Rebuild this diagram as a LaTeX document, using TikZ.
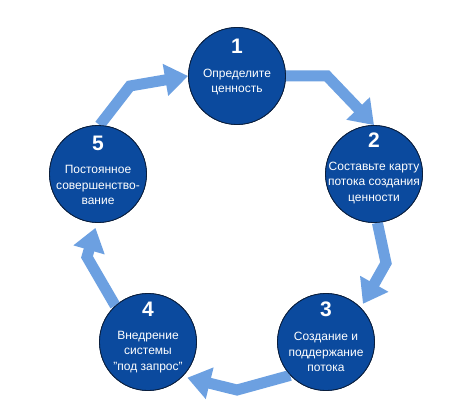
\documentclass[tikz,border=0pt]{standalone}
\usepackage{fontspec}
\setmainfont{Liberation Sans}
\usetikzlibrary{arrows.meta,calc}
\definecolor{circblue}{RGB}{11,74,158}
\definecolor{arrblue}{RGB}{108,160,225}
\definecolor{circline}{RGB}{10,30,60}
\tikzset{
  stage/.style={circle, fill=circblue, draw=circline, line width=0.8pt, minimum size=97pt, inner sep=0pt},
  num/.style={text=white, font=\fontsize{21}{24}\selectfont\bfseries, inner sep=0pt},
  txt/.style={text=white, font=\fontsize{12}{15.5}\selectfont, align=center, inner sep=0pt},
  flow/.style={draw=arrblue, line width=11pt, line join=miter, miter limit=10,
    -{Triangle[width=31pt,length=23pt]}}
}
\begin{document}
\begin{tikzpicture}[x=1pt,y=-1pt]
\useasboundingbox (0,0) rectangle (474,409);
\fill[white] (0,0) rectangle (474,409);
% circles
\node[stage] (c1) at (237,76) {};
\node[stage] (c2) at (374,174) {};
\node[stage] (c3) at (326,342) {};
\node[stage] (c4) at (148,342) {};
\node[stage] (c5) at (98,174) {};
% bends
\coordinate (b12) at (327,76);
\coordinate (b23) at (386,263);
\coordinate (b34) at (237,390);
\coordinate (b45) at (87,257);
\coordinate (b51) at (130,86);
% arrows
\draw[flow] (c1.east) -- (b12) -- (c2.north);
\draw[flow] (c2.-86) -- (b23) -- ($(c3.46)+(3,-3)$);
\draw[flow] (c3.223) -- (b34) -- ($(c4.-42)+(3,3)$);
\draw[flow] (c4.132) -- (b45) -- ($(c5.-93)+(0,5)$);
\draw[flow] (c5.88) -- (b51) -- (c1.west);
% redraw circles on top
\node[stage] at (c1) {};
\node[stage] at (c2) {};
\node[stage] at (c3) {};
\node[stage] at (c4) {};
\node[stage] at (c5) {};
% labels
\node[num] (n1) at ($(c1)+(0,-30)$) {1};
\node[txt] (t1) at ($(c1)+(0,6)$) {Определите\\ценность};
\node[num] (n2) at ($(c2)+(0,-34)$) {2};
\node[txt] (t2) at ($(c2)+(0,9)$) {Составьте карту\\потока создания\\ценности};
\node[num] (n3) at ($(c3)+(0,-33)$) {3};
\node[txt] (t3) at ($(c3)+(0,10)$) {Создание и\\поддержание\\потока};
\node[num] (n4) at ($(c4)+(0,-33)$) {4};
\node[txt] (t4) at ($(c4)+(0,10)$) {Внедрение\\системы\\"под запрос"};
\node[num] (n5) at ($(c5)+(0,-31)$) {5};
\node[txt] (t5) at ($(c5)+(0,11)$) {Постоянное\\совершенство-\\вание};
\end{tikzpicture}
\end{document}
